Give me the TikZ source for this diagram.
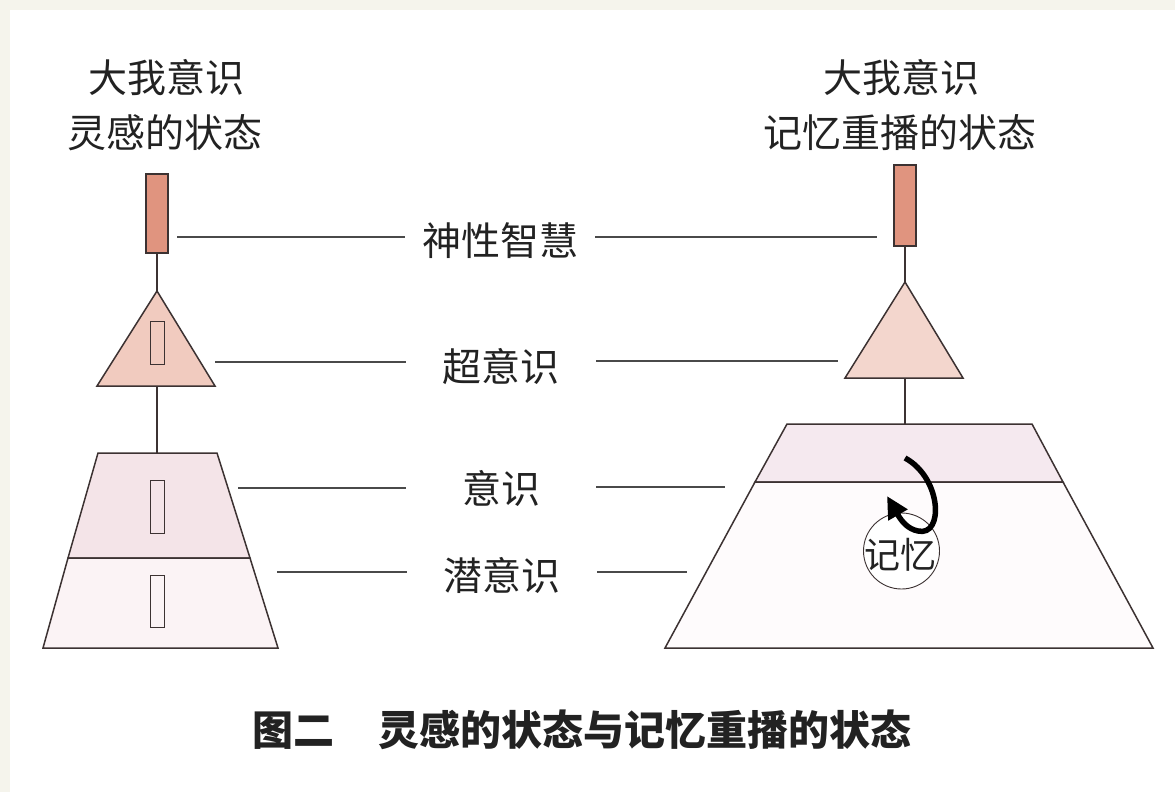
\documentclass[tikz,border=0pt]{standalone}
\usepackage{fontspec}
\newfontfamily\cjk{Noto Sans CJK SC}
\usetikzlibrary{arrows.meta}
\definecolor{bgbeige}{HTML}{F5F4EC}
\definecolor{ink}{HTML}{222222}
\definecolor{lead}{HTML}{4A4A4A}
\definecolor{salmon}{HTML}{E0947F}
\definecolor{triL}{HTML}{F1CBBF}
\definecolor{triR}{HTML}{F3D6CD}
\definecolor{trapLU}{HTML}{F4E4E8}
\definecolor{trapLD}{HTML}{FBF3F5}
\definecolor{trapRU}{HTML}{F5E9EF}
\definecolor{trapRD}{HTML}{FEFBFC}
\definecolor{edge}{HTML}{3C3232}
\begin{document}
\begin{tikzpicture}[x=1pt,y=-1pt,
 shapeline/.style={draw=edge,line width=1.5pt,line join=miter},
 stem/.style={draw=edge,line width=1.2pt},
 leader/.style={draw=lead,line width=1.1pt},
 toprect/.style={rectangle,draw=edge,line width=1.5pt,fill=salmon,minimum width=22pt,inner sep=0pt},
 slot/.style={rectangle,draw=edge,line width=0.8pt,minimum width=14pt,inner sep=0pt},
 title/.style={font=\cjk\fontsize{39}{41}\selectfont,text=ink,inner sep=0pt},
 lbl/.style={font=\cjk\fontsize{39}{41}\selectfont,text=ink,inner sep=0pt,minimum width=190pt},
 memarrow/.style={draw=black,line width=5.5pt,-{Triangle[length=22pt,width=21pt]}},
]
\fill[bgbeige] (0,0) rectangle (1175,792);
\fill[white] (10,10) rectangle (1175,792);
\useasboundingbox (0,0) rectangle (1175,792);

% titles
\node[title] (tl1) at (166,78) {大我意识};
\node[title] (tl2) at (165,133) {灵感的状态};
\node[title] (tr1) at (901,78) {大我意识};
\node[title] (tr2) at (900,133) {记忆重播的状态};

% ---------- left figure ----------
\node[toprect,minimum height=79pt] (lrect) at (157,213.5) {};
\coordinate (lapex) at (157,291);
\coordinate (ltribase) at (157,386);
\coordinate (ltraptop) at (157,453);
\draw[stem] (lrect.south) -- (lapex);
\draw[shapeline,fill=triL] (lapex) -- (215,386) -- (97,386) -- cycle;
\draw[stem] (ltribase) -- (ltraptop);
\draw[shapeline,fill=trapLU] (98,453) -- (217,453) -- (250,558) -- (68,558) -- cycle;
\draw[shapeline,fill=trapLD] (68,558) -- (250,558) -- (278,648) -- (43,648) -- cycle;
\node[slot,minimum height=43pt] (ls1) at (157,342.5) {};
\node[slot,minimum height=53pt] (ls2) at (157,506.5) {};
\node[slot,minimum height=52pt] (ls3) at (157.5,601) {};

% ---------- right figure ----------
\node[toprect,minimum height=81pt] (rrect) at (905,205.5) {};
\coordinate (rapex) at (905,282);
\coordinate (rtribase) at (905,378);
\coordinate (rtraptop) at (905,424);
\draw[stem] (rrect.south) -- (rapex);
\draw[shapeline,fill=triR] (rapex) -- (963,378) -- (845,378) -- cycle;
\draw[stem] (rtribase) -- (rtraptop);
\draw[shapeline,fill=trapRU] (787,424) -- (1032,424) -- (1063,482) -- (755,482) -- cycle;
\draw[shapeline,fill=trapRD] (755,482) -- (1063,482) -- (1153,648) -- (665,648) -- cycle;

% memory circle and arrow
\node[circle,draw=edge,line width=0.9pt,fill=white,minimum size=76pt,inner sep=0pt] (mem) at (901.5,551) {};
\node[font=\cjk\fontsize{36}{38}\selectfont,text=ink,inner sep=0pt] (memtxt) at (900,555) {记忆};
\coordinate (arrstart) at (905,458);
\coordinate (arrend) at (887,496);
\draw[memarrow] (arrstart) .. controls (942,478) and (944,537) .. (918,531)
  .. controls (908,529) and (902,522) .. (arrend);

% ---------- middle labels ----------
\node[lbl] (wis) at (500,241) {神性智慧};
\node[lbl] (sup) at (501,367) {超意识};
\node[lbl] (con) at (501,488) {意识};
\node[lbl] (sub) at (502,575) {潜意识};

\coordinate (wisL) at (177,237);  \coordinate (wisR) at (877,237);
\coordinate (supL) at (215,362);  \coordinate (supR) at (838,361);
\coordinate (conL) at (238,488);  \coordinate (conR) at (725,487);
\coordinate (subL) at (277,572);  \coordinate (subR) at (687,572);

\draw[leader] (wisL) -- (wisL -| wis.west);
\draw[leader] (wis.east |- wisR) -- (wisR);
\draw[leader] (supL) -- (supL -| sup.west);
\draw[leader] (sup.east |- supR) -- (supR);
\draw[leader] (conL) -- (conL -| con.west);
\draw[leader] (con.east |- conR) -- (conR);
\draw[leader] (subL) -- (subL -| sub.west);
\draw[leader] (sub.east |- subR) -- (subR);

% caption
\node[font=\cjk\bfseries\fontsize{41}{43}\selectfont,text=ink,inner sep=0pt] (cap) at (582,730)
  {图二\hspace{44pt}灵感的状态与记忆重播的状态};
\end{tikzpicture}
\end{document}
